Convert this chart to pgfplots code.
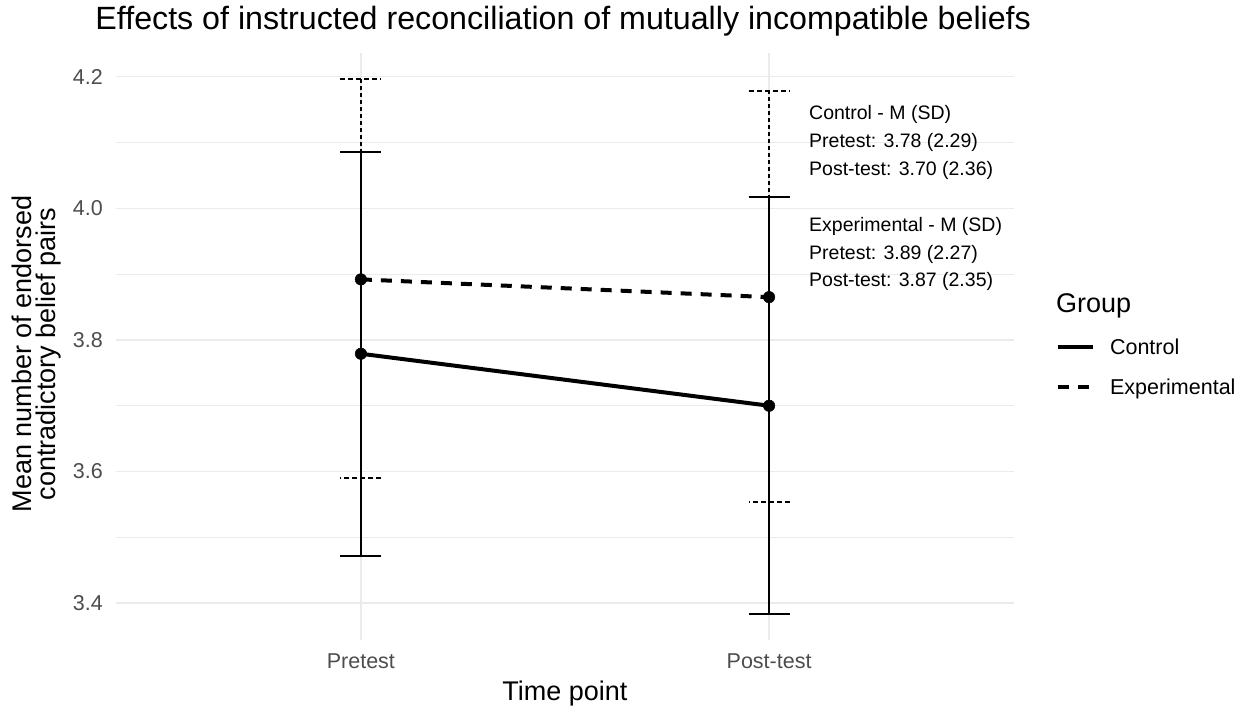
\documentclass[border=0pt]{standalone}
\usepackage{fontspec}
\setmainfont{Liberation Sans}
\usepackage{pgfplots}
\pgfplotsset{compat=1.18}
\definecolor{gridc}{HTML}{EBEBEB}
\definecolor{tickc}{HTML}{4D4D4D}
\begin{document}
\begin{tikzpicture}
\path[use as bounding box] (0pt,0pt) rectangle (1244pt,-706pt);
\begin{axis}[
  at={(116pt,-640pt)}, anchor=south west,
  scale only axis, width=898pt, height=587pt,
  xmin=-0.6, xmax=1.6, ymin=3.344, ymax=4.236,
  xtick={0,1}, xticklabels={Pretest,Post-test},
  ytick={3.4,3.6,3.8,4.0,4.2}, yticklabels={3.4,3.6,3.8,4.0,4.2},
  minor ytick={3.5,3.7,3.9,4.1},
  xmajorgrids, ymajorgrids, yminorgrids,
  major grid style={draw=gridc, line width=1.4pt},
  minor grid style={draw=gridc, line width=0.7pt},
  axis line style={draw=none},
  major tick length=0pt, minor tick length=0pt,
  tick style={draw=none},
  ticklabel style={font=\fontsize{21.5}{25}\selectfont, text=tickc, inner sep=0pt},
  xticklabel style={anchor=north, yshift=-13pt},
  yticklabel style={anchor=east, xshift=-13pt},
  title={Effects of instructed reconciliation of mutually incompatible beliefs},
  title style={at={(axis description cs:0.498,1.029)}, anchor=base, font=\fontsize{32.2}{36}\selectfont, inner sep=0pt},
  xlabel={Time point},
  xlabel style={at={(axis description cs:0.5,-0.1039)}, anchor=base, font=\fontsize{27}{30}\selectfont, inner sep=0pt},
  ylabel={Mean number of endorsed\\contradictory belief pairs},
  ylabel style={at={(axis description cs:-0.0885,0.487)}, anchor=center, align=center, font=\fontsize{27}{24.5}\selectfont, inner sep=0pt},
  legend style={at={(axis description cs:1.0468,0.512)}, anchor=north west, draw=none, fill=none, inner sep=0pt, outer sep=0pt, row sep=25pt, column sep=15pt, font=\fontsize{21.5}{25}\selectfont, nodes={inner sep=0pt, text height=15pt, text depth=0pt}, cells={anchor=west}},
  legend image code/.code={\draw[#1, mark=none] (0pt,0pt) -- (35pt,0pt);},
]
\addplot[black, line width=4pt, mark=*, mark size=5.75pt, mark options={solid, fill=black, line width=0.5pt},
  error bars/.cd, y dir=both, y explicit, error mark=|,
  error bar style={line width=2pt, solid},
  error mark options={line width=2pt, mark size=20.5pt, solid}]
  coordinates {(0,3.779) += (0,0.307) -= (0,0.307) (1,3.700) += (0,0.317) -= (0,0.317)};
\addlegendentry{Control}
\addplot[black, line width=4pt, dash pattern=on 11pt off 9pt, mark=*, mark size=5.75pt, mark options={solid, fill=black, line width=0.5pt},
  error bars/.cd, y dir=both, y explicit, error mark=|,
  error bar style={line width=2pt, dash pattern=on 4pt off 3pt},
  error mark options={line width=2pt, mark size=20.5pt, dash pattern=on 5pt off 3pt}]
  coordinates {(0,3.892) += (0,0.304) -= (0,0.302) (1,3.865) += (0,0.313) -= (0,0.312)};
\addlegendentry{Experimental}
\end{axis}
\begin{scope}[every node/.style={anchor=base west, font=\fontsize{19.5}{24}\selectfont, inner sep=0pt}]
\node at (809pt,-119.3pt) {Control - M (SD)};
\node at (809pt,-147.3pt) {Pretest: 3.78 (2.29)};
\node at (809pt,-175pt) {Post-test: 3.70 (2.36)};
\node at (809pt,-231.7pt) {Experimental - M (SD)};
\node at (809pt,-259.3pt) {Pretest: 3.89 (2.27)};
\node at (809pt,-286.7pt) {Post-test: 3.87 (2.35)};
\end{scope}
\node[anchor=base west, font=\fontsize{27}{30}\selectfont, inner sep=0pt] at (1056pt,-312pt) {Group};
\end{tikzpicture}
\end{document}
